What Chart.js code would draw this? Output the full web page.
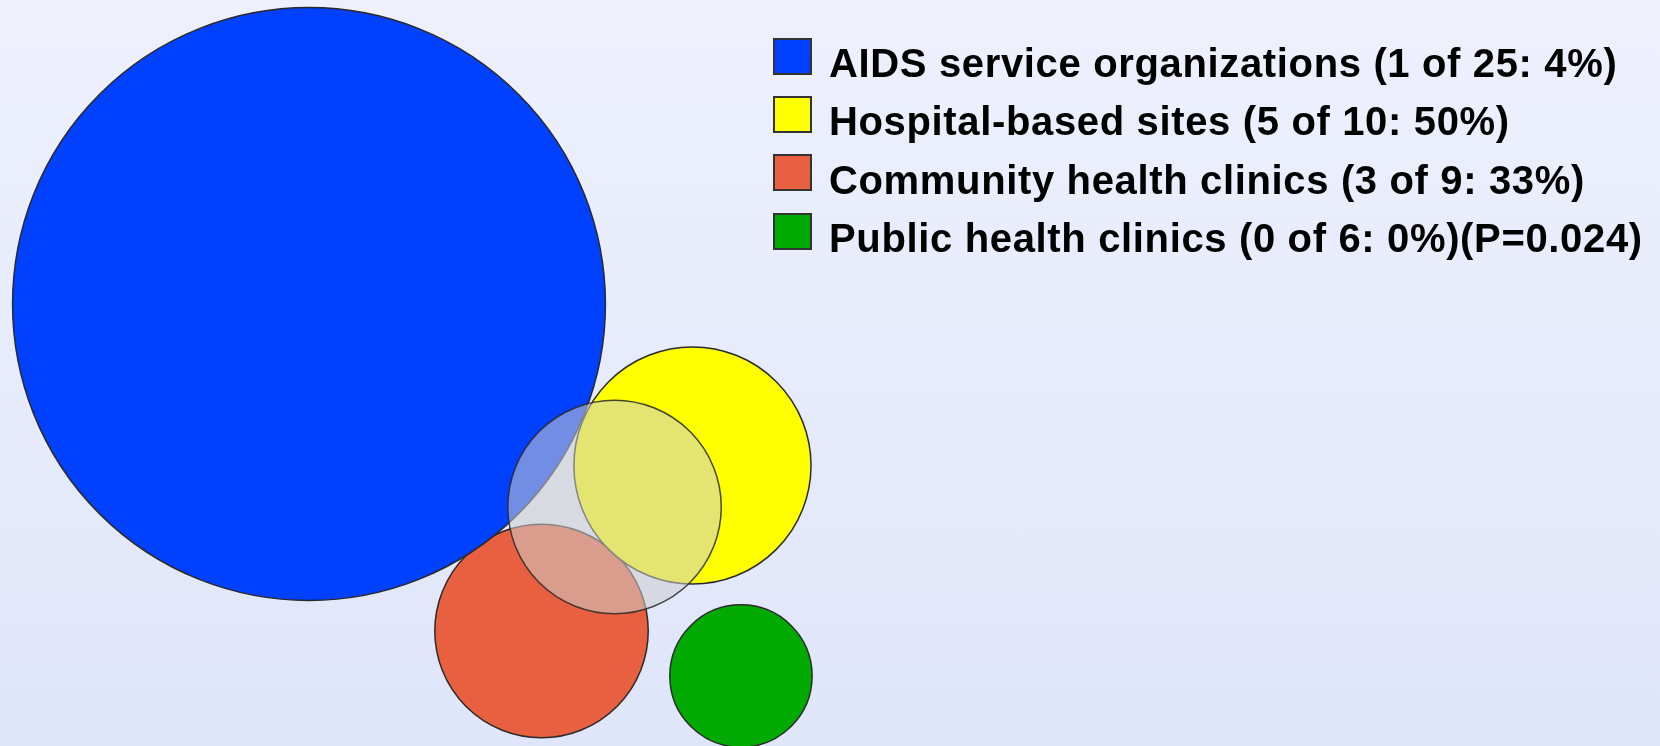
<!DOCTYPE html>
<html>
<head>
<meta charset="utf-8">
<script src="https://cdn.jsdelivr.net/npm/chart.js@4.4.1/dist/chart.umd.min.js"></script>
<style>
    html, body { margin: 0; padding: 0; }
    body {
        width: 1660px;
        height: 746px;
        overflow: hidden;
        background: linear-gradient(#eef1fc, #dfe5fa);
        position: relative;
    }
    #wrap { position: absolute; left: 0; top: 0; width: 1660px; height: 746px; }
    #legend {
        position: absolute;
        left: 773px;
        top: 27px;
        font-family: 'Liberation Sans', Arial, sans-serif;
        font-weight: bold;
        font-size: 40px;
        letter-spacing: 0.65px;
        color: #000;
    }
    .row { height: 58.3px; display: flex; align-items: center; white-space: nowrap; }
    .box { width: 39px; height: 37px; box-sizing: border-box; border: 2px solid #333; flex: none; }
    .txt { margin-left: 17px; line-height: 1; position: relative; top: 7px; }
</style>
</head>
<body>
<div id="wrap"><canvas id="chart_sites"></canvas></div>
<div id="legend"></div>
<script>
const categories = ['AIDS service organizations', 'Hospital-based sites', 'Community health clinics', 'Public health clinics'];
const sitesTotal = [25, 10, 9, 6];
const sitesPositive = [1, 5, 3, 0];
const pValue = '0.024';

// bubble centres, in the same units as the radius (one unit = one site)
const centerX = [26.06, 58.40, 45.67, 62.49];
const centerY = [25.64, 39.26, 53.22, 57.01];
const positiveX = [51.83];
const positiveY = [42.76];

const colors = ['#0040ff', '#ffff00', '#e8603f', '#00aa00'];

const X_MAX = 140;
const PX_PER_SITE = 1660 / X_MAX;
const Y_MAX = 746 / PX_PER_SITE;

const pct = (a, b) => Math.round(a / b * 100);
const legendText = categories.map((c, i) => {
    let s = `${c} (${sitesPositive[i]} of ${sitesTotal[i]}: ${pct(sitesPositive[i], sitesTotal[i])}%)`;
    if (i === categories.length - 1) s += `(P=${pValue})`;
    return s;
});

const totalPositive = sitesPositive.reduce((s, v) => s + v, 0);

const datasets = [{
    label: 'All positive sites',
    data: positiveX.map((x, i) => ({ x: x, y: positiveY[i], r: totalPositive * PX_PER_SITE })),
    backgroundColor: 'rgba(205, 205, 205, 0.55)',
    borderColor: 'rgba(40, 40, 40, 0.85)',
    borderWidth: 1.5,
    clip: false,
    isPositive: true
}];
categories.forEach((c, i) => {
    datasets.push({
        label: legendText[i],
        data: [{ x: centerX[i], y: centerY[i], r: sitesTotal[i] * PX_PER_SITE }],
        backgroundColor: colors[i],
        borderColor: '#2a2a2a',
        borderWidth: 1.5,
        clip: false
    });
});

const chart = new Chart(document.getElementById('chart_sites'), {
    type: 'bubble',
    data: { datasets: datasets },
    options: {
        responsive: true,
        maintainAspectRatio: false,
        animation: false,
        events: [],
        layout: { padding: 0, autoPadding: false },
        scales: {
            x: { type: 'linear', min: 0, max: X_MAX, display: false },
            y: { type: 'linear', min: 0, max: Y_MAX, reverse: true, display: false }
        },
        plugins: {
            legend: { display: false },
            tooltip: { enabled: false }
        }
    }
});

// html legend from the chart's own legend items
const legendEl = document.getElementById('legend');
const items = Chart.defaults.plugins.legend.labels.generateLabels(chart)
    .filter(item => !chart.data.datasets[item.datasetIndex].isPositive);
items.forEach(item => {
    const row = document.createElement('div');
    row.className = 'row';
    const box = document.createElement('span');
    box.className = 'box';
    box.style.background = item.fillStyle;
    const txt = document.createElement('span');
    txt.className = 'txt';
    txt.textContent = item.text;
    row.appendChild(box);
    row.appendChild(txt);
    legendEl.appendChild(row);
});
</script>
</body>
</html>
